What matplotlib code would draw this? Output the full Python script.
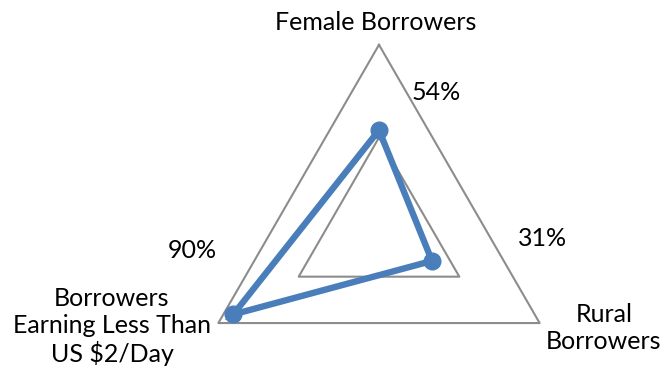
import numpy as np
import matplotlib.pyplot as plt

# axes of the radar, in drawing order (clockwise from top)
AXES = ["Female Borrowers", "Rural\nBorrowers", "Borrowers\nEarning Less Than\nUS $2/Day"]
ANGLES_DEG = [90, -30, 210]
VALUES = [0.54, 0.33, 0.907]
VALUE_LABELS = ["54%", "31%", "90%"]
GRID_LEVELS = [0.5, 1.0]

BLUE = "#4a7ebb"
GREY = "#8c8c8c"

plt.rcParams["font.family"] = ["Lato", "DejaVu Sans"]

W, H, DPI = 666, 376, 100
CX, CY, R = 379, 230.3, 185.5   # centre / radius in pixels

fig = plt.figure(figsize=(W / DPI, H / DPI), dpi=DPI)
ax = fig.add_axes([0, 0, 1, 1])
ax.set_xlim(-CX / R, (W - CX) / R)
ax.set_ylim(-(H - CY) / R, CY / R)
ax.axis("off")

th = np.radians(ANGLES_DEG)
for g in GRID_LEVELS:
    gx = np.append(g * np.cos(th), g * np.cos(th[0]))
    gy = np.append(g * np.sin(th), g * np.sin(th[0]))
    ax.plot(gx, gy, color=GREY, lw=1.5, zorder=1)

v = np.array(VALUES)
px = np.append(v * np.cos(th), v[0] * np.cos(th[0]))
py = np.append(v * np.sin(th), v[0] * np.sin(th[0]))
ax.plot(px, py, color=BLUE, lw=4.6, solid_joinstyle="miter", zorder=2)
ax.plot(v * np.cos(th), v * np.sin(th), "o", color=BLUE, ms=12, zorder=3)


def pix(x, y):
    return ((x - CX) / R, (CY - y) / R)


fs = 18
ax.text(*pix(376, 22), AXES[0], ha="center", va="center", fontsize=fs)
ax.text(*pix(604, 328), AXES[1], ha="center", va="center", fontsize=fs, linespacing=1.2)
ax.text(*pix(112, 327), AXES[2], ha="center", va="center", fontsize=fs, linespacing=1.2)

ax.text(*pix(436, 92), VALUE_LABELS[0], ha="center", va="center", fontsize=fs)
ax.text(*pix(543, 238), VALUE_LABELS[1], ha="center", va="center", fontsize=fs)
ax.text(*pix(192, 250), VALUE_LABELS[2], ha="center", va="center", fontsize=fs)

fig.savefig("out.png", dpi=DPI)
